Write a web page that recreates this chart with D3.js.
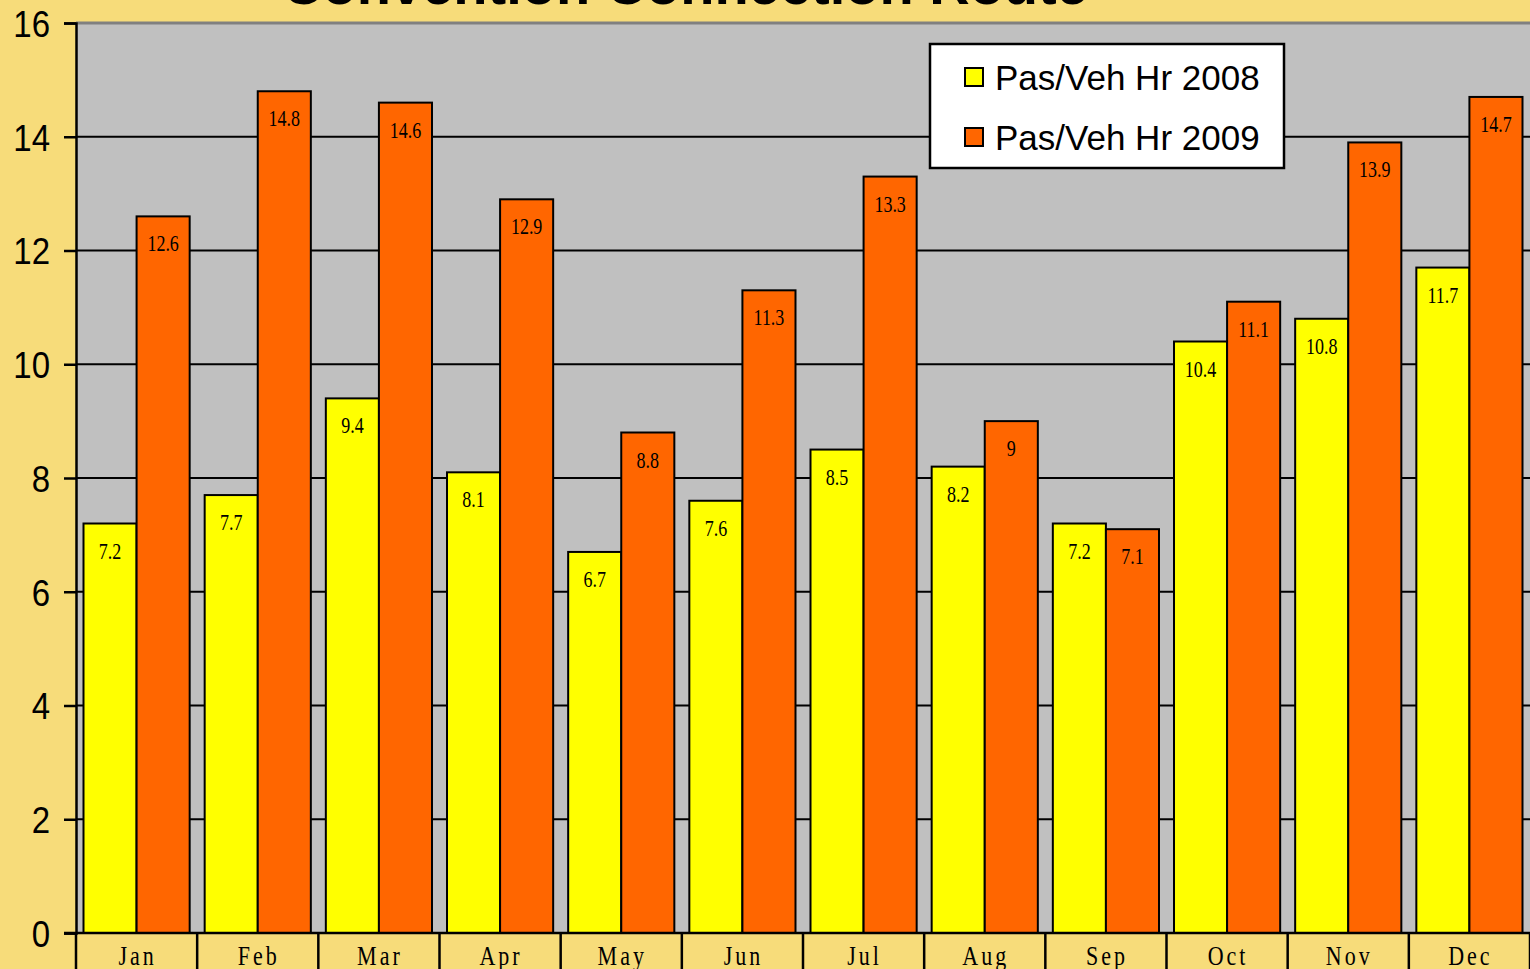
<!DOCTYPE html>
<html>
<head>
<meta charset="utf-8">
<script src="https://cdn.jsdelivr.net/npm/d3@7"></script>
<style>
  html, body { margin: 0; padding: 0; background: #F7DC7A; overflow: hidden; }
  svg { display: block; }
</style>
</head>
<body>
<svg id="chart" width="1530" height="969"></svg>
<script>
const title = "Convention Connection Route";
const months = ["Jan","Feb","Mar","Apr","May","Jun","Jul","Aug","Sep","Oct","Nov","Dec"];
const seriesNames = ["Pas/Veh Hr 2008", "Pas/Veh Hr 2009"];
const values2008 = [7.2, 7.7, 9.4, 8.1, 6.7, 7.6, 8.5, 8.2, 7.2, 10.4, 10.8, 11.7];
const values2009 = [12.6, 14.8, 14.6, 12.9, 8.8, 11.3, 13.3, 9, 7.1, 11.1, 13.9, 14.7];
const yTicks = [0, 2, 4, 6, 8, 10, 12, 14, 16];
const colors = ["#FFFF00", "#FF6600"];

const W = 1530, H = 969;
const m = { left: 76, right: 0, top: 23, bottom: 36 };
const svg = d3.select("#chart");

// background
svg.append("rect").attr("width", W).attr("height", H).attr("fill", "#F7DC7A");

const x0 = d3.scaleBand().domain(months).range([m.left, W - m.right]).padding(0);
const x1 = d3.scaleBand().domain(seriesNames).range([7.5, x0.bandwidth() - 7.5]).padding(0);
const y = d3.scaleLinear().domain([0, 16]).range([H - m.bottom, m.top]);

// plot area
svg.append("rect")
  .attr("x", m.left).attr("y", y(16))
  .attr("width", W - m.right - m.left).attr("height", y(0) - y(16))
  .attr("fill", "#C0C0C0");

// gridlines
svg.append("g").selectAll("line").data(yTicks.filter(t => t > 0 && t < 16)).join("line")
  .attr("x1", m.left).attr("x2", W).attr("y1", d => y(d)).attr("y2", d => y(d))
  .attr("stroke", "#000").attr("stroke-width", 2);

// top border
svg.append("line").attr("x1", m.left).attr("x2", W).attr("y1", y(16)).attr("y2", y(16))
  .attr("stroke", "#808080").attr("stroke-width", 3);

// title (clipped at top)
svg.append("text").attr("x", 685).attr("y", 4)
  .attr("text-anchor", "middle")
  .attr("font-family", "Liberation Sans, Arial, sans-serif")
  .attr("font-weight", "bold").attr("font-size", 56)
  .attr("fill", "#000").text(title);

// bars
const data = months.map((mo, i) => ({ month: mo, vals: [
  { s: seriesNames[0], v: values2008[i], c: colors[0] },
  { s: seriesNames[1], v: values2009[i], c: colors[1] }
]}));

const groups = svg.append("g").selectAll("g").data(data).join("g")
  .attr("transform", d => `translate(${x0(d.month)},0)`);

groups.selectAll("rect").data(d => d.vals).join("rect")
  .attr("x", d => x1(d.s)).attr("y", d => y(d.v))
  .attr("width", x1.bandwidth()).attr("height", d => y(0) - y(d.v))
  .attr("fill", d => d.c).attr("stroke", "#000").attr("stroke-width", 2);

groups.selectAll("text").data(d => d.vals).join("text")
  .attr("transform", d => `translate(${x1(d.s) + x1.bandwidth() / 2},${y(d.v) + 35}) scale(1,1.25)`)
  .attr("text-anchor", "middle")
  .attr("font-family", "Liberation Serif, Times New Roman, serif")
  .attr("font-size", 18).attr("fill", "#000")
  .text(d => d.v);

// y axis
const yAxis = d3.axisLeft(y).tickValues(yTicks).tickSize(12).tickPadding(0).tickFormat(d3.format("d"));
const yg = svg.append("g").attr("transform", `translate(${m.left},0)`).call(yAxis);
yg.select(".domain").attr("stroke", "#000").attr("stroke-width", 2.5);
yg.selectAll(".tick line").attr("stroke", "#000").attr("stroke-width", 2.5);
yg.selectAll(".tick text")
  .attr("font-family", "Liberation Sans, Arial, sans-serif")
  .attr("font-size", 33).attr("fill", "#000")
  .attr("x", -26).attr("dy", null)
  .attr("transform", "scale(1,1.14)")
  .attr("y", function(d){ return 0; })
  .attr("dominant-baseline", "central");

// x axis
const xg = svg.append("g").attr("transform", `translate(0,${y(0)})`);
xg.append("line").attr("x1", m.left - 12).attr("x2", W).attr("y1", 0).attr("y2", 0)
  .attr("stroke", "#000").attr("stroke-width", 2.5);
xg.selectAll("line.sep").data(months.concat(["end"])).join("line").attr("class", "sep")
  .attr("x1", (d, i) => m.left + i * x0.step()).attr("x2", (d, i) => m.left + i * x0.step())
  .attr("y1", 0).attr("y2", 40)
  .attr("stroke", "#000").attr("stroke-width", 2.5);
xg.selectAll("text").data(months).join("text")
  .attr("transform", d => `translate(${x0(d) + x0.bandwidth() / 2 + 1},${32}) scale(1,1.2)`)
  .attr("text-anchor", "middle")
  .attr("font-family", "Liberation Serif, Times New Roman, serif")
  .attr("font-size", 22).attr("letter-spacing", 3).attr("fill", "#000")
  .text(d => d);

// legend
const lg = svg.append("g").attr("transform", "translate(930,44)");
lg.append("rect").attr("width", 354).attr("height", 124)
  .attr("fill", "#fff").attr("stroke", "#000").attr("stroke-width", 2.5);
const li = lg.selectAll("g").data(seriesNames).join("g")
  .attr("transform", (d, i) => `translate(35,${33 + i * 60})`);
li.append("rect").attr("x", 0).attr("y", -9).attr("width", 18).attr("height", 18)
  .attr("fill", (d, i) => colors[i]).attr("stroke", "#000").attr("stroke-width", 2);
li.append("text").attr("x", 30).attr("y", 0)
  .attr("dominant-baseline", "central")
  .attr("font-family", "Liberation Sans, Arial, sans-serif")
  .attr("font-size", 35).attr("fill", "#000")
  .text(d => d);
</script>
</body>
</html>
